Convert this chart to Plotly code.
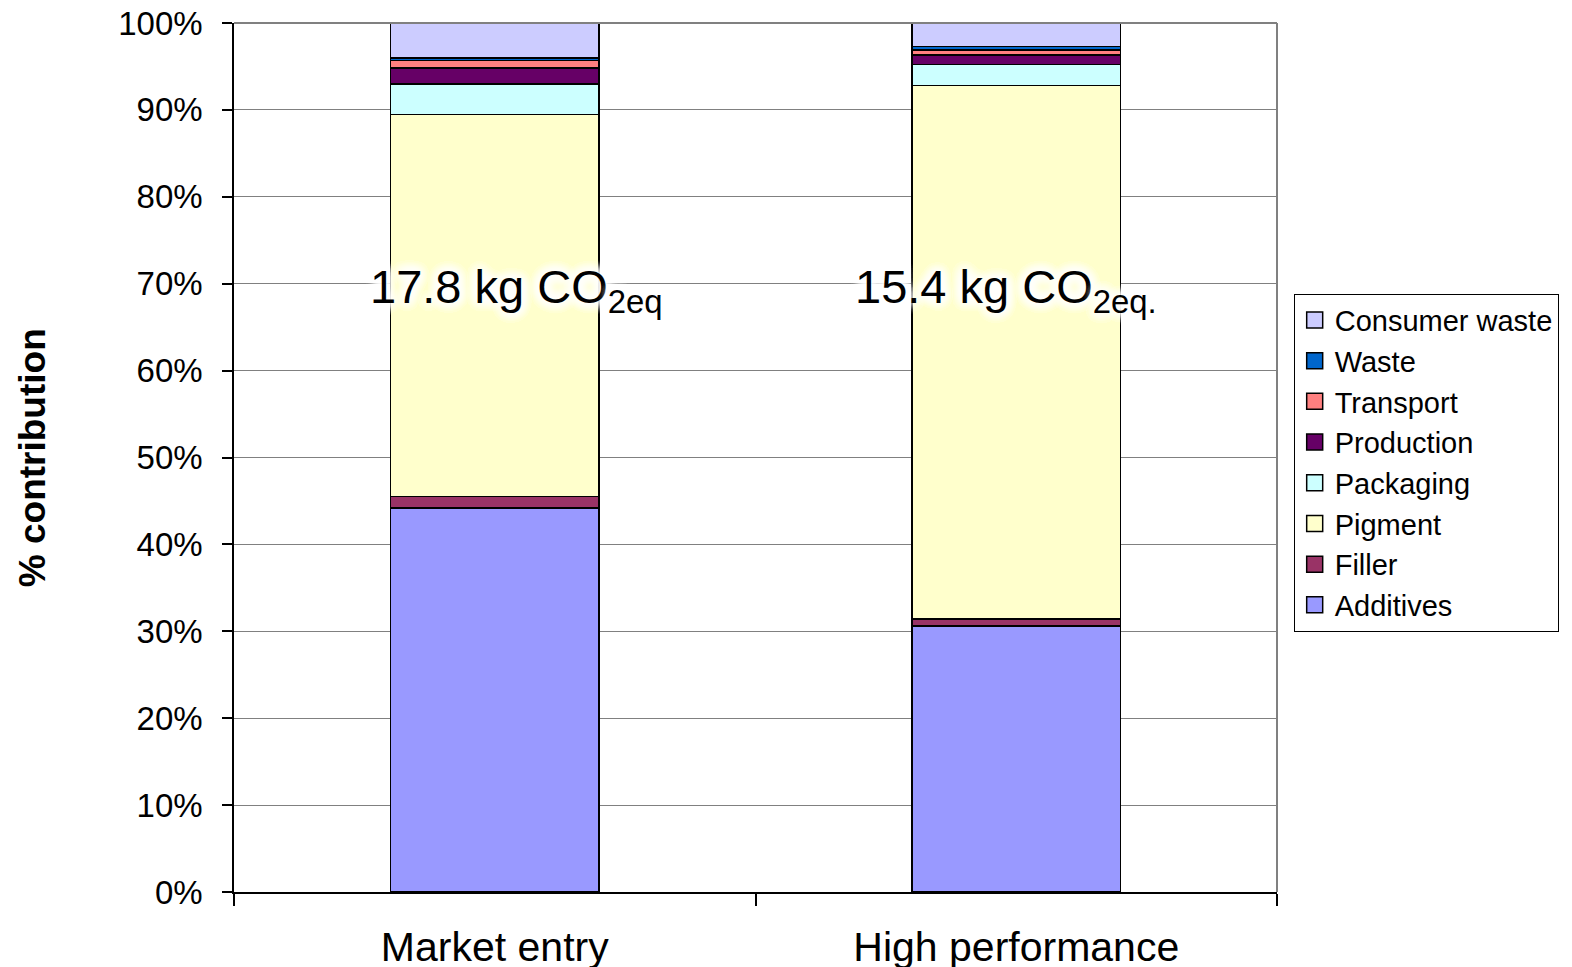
import plotly.graph_objects as go

# Product variants on the x axis
categories = ["Market entry", "High performance"]

# Share of total CO2-eq per life-cycle stage (%), bottom to top of each stack
additives = [44.2, 30.6]
filler = [1.3, 0.8]
pigment = [44.0, 61.4]
packaging = [3.5, 2.4]
production = [1.8, 1.1]
transport = [0.9, 0.6]
waste = [0.3, 0.4]
consumer_waste = [4.0, 2.7]

# Total footprint labels for each variant
totals_text = ["17.8 kg CO<sub>2eq</sub>", "15.4 kg CO<sub>2eq.</sub>"]
totals_y = [69.3, 69.3]
totals_shift = [22, -10]

y_ticks = list(range(0, 101, 10))
y_tick_labels = [f"{v}%" for v in y_ticks]

series = [
    ("Additives", additives, "#9999FF"),
    ("Filler", filler, "#993366"),
    ("Pigment", pigment, "#FFFFCC"),
    ("Packaging", packaging, "#CCFFFF"),
    ("Production", production, "#660066"),
    ("Transport", transport, "#FF8080"),
    ("Waste", waste, "#0066CC"),
    ("Consumer waste", consumer_waste, "#CCCCFF"),
]

FONT = "Liberation Sans, Arial, sans-serif"

fig = go.Figure()
for name, vals, color in series:
    fig.add_trace(go.Bar(
        x=categories, y=vals, name=name, showlegend=False,
        marker=dict(color=color, line=dict(color="black", width=1.5)),
    ))

# Legend entries drawn as larger outlined squares
for name, vals, color in series:
    fig.add_trace(go.Scatter(
        x=[None], y=[None], mode="markers", name=name,
        marker=dict(symbol="square", size=18, color=color,
                    line=dict(color="black", width=1.5)),
    ))

glow = ", ".join(["0px 0px 12px white"] * 8)
for cat, txt, yv, dx in zip(categories, totals_text, totals_y, totals_shift):
    fig.add_annotation(
        x=cat, y=yv, xref="x", yref="y", text=txt, showarrow=False,
        xshift=dx, yanchor="middle",
        font=dict(family=FONT, size=47, color="black", shadow=glow),
    )

fig.add_annotation(
    x=-0.193, y=0.5, xref="paper", yref="paper", text="<b>% contribution</b>",
    showarrow=False, textangle=-90, xanchor="center", yanchor="middle",
    font=dict(family=FONT, size=37, color="black"),
)

# Grey frame on the top and right of the plotting area
fig.add_shape(type="line", xref="paper", yref="paper", x0=0, x1=1, y0=1, y1=1,
              line=dict(color="#808080", width=2))
fig.add_shape(type="line", xref="paper", yref="paper", x0=1, x1=1, y0=0, y1=1,
              line=dict(color="#808080", width=2))

fig.update_layout(
    barmode="stack",
    bargap=0.6,
    width=1572, height=967,
    margin=dict(l=234, r=295, t=23, b=75, autoexpand=False),
    plot_bgcolor="white", paper_bgcolor="white",
    font=dict(family=FONT, color="black"),
    legend=dict(
        traceorder="reversed",
        x=1.016, y=0.6886, xanchor="left", yanchor="top",
        font=dict(family=FONT, size=29, color="black"),
        bordercolor="black", borderwidth=1, bgcolor="white",
        tracegroupgap=0, itemwidth=30,
    ),
    xaxis=dict(
        type="category", tickson="boundaries", ticks="outside", ticklen=12,
        tickcolor="black", tickwidth=1.5, showline=True, linecolor="black", linewidth=1.5,
        showgrid=False, tickfont=dict(family=FONT, size=41, color="black"),
        ticklabelstandoff=18, automargin=False,
    ),
    yaxis=dict(
        range=[0, 100], tickvals=y_ticks, ticktext=y_tick_labels,
        ticks="outside", ticklen=10,
        tickcolor="black", tickwidth=1.5, showline=True, linecolor="black", linewidth=1.5,
        showgrid=True, gridcolor="#808080", gridwidth=1,
        tickfont=dict(family=FONT, size=33, color="black"), ticklabelstandoff=13,
        zeroline=False, automargin=False,
    ),
)

fig.write_html("out.html")
